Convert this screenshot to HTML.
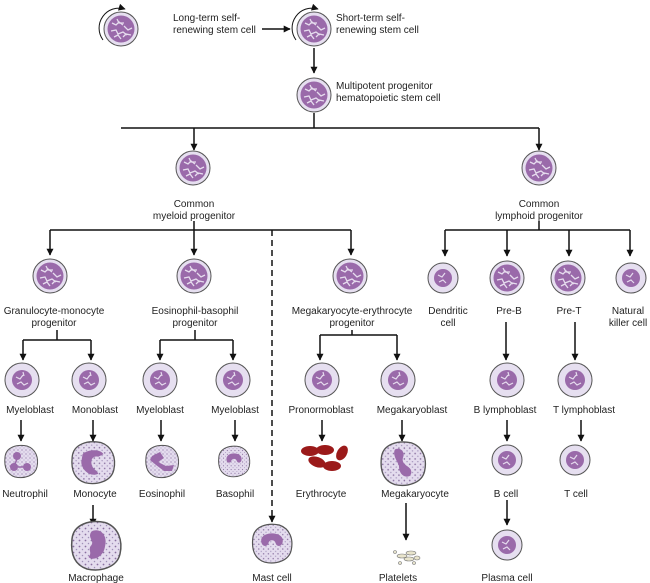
<!DOCTYPE html>
<html><head><meta charset="utf-8"><style>
html,body{margin:0;padding:0;background:#fff}
svg{display:block}
text{font-family:"Liberation Sans",sans-serif;font-size:10px;fill:#222}
</style></head><body>
<svg width="650" height="583" viewBox="0 0 650 583" xmlns="http://www.w3.org/2000/svg">
<defs>
<marker id="ar" viewBox="0 0 10 10" refX="9" refY="5" markerWidth="7" markerHeight="7" orient="auto" markerUnits="userSpaceOnUse"><path d="M0,0 L10,5 L0,10 z" fill="#111"/></marker>
<pattern id="dots" width="4" height="4" patternUnits="userSpaceOnUse"><rect width="4" height="4" fill="#e4dcee"/><circle cx="1" cy="1" r="0.6" fill="#8a70a0"/><circle cx="3" cy="3" r="0.5" fill="#a090b8"/></pattern>
<g id="stem">
<circle r="17" fill="#e6dff0" stroke="#555" stroke-width="1"/>
<circle r="13.5" fill="#9a6aaa"/>
<path d="M-9,-6 l4,2 l3,-3 l4,3 M-10,2 l5,-1 l2,4 l5,-2 l4,3 M-4,-10 l2,4 l5,0 M3,-3 l4,4 l4,-2 M-7,8 l4,-2 l3,4 M2,8 l3,-3 l5,1" stroke="#e6dcee" stroke-width="1.3" fill="none"/>
</g>
<g id="blast">
<circle r="17" fill="#e6dff0" stroke="#555" stroke-width="1"/>
<circle r="10" fill="#9a6aaa"/>
<path d="M-6,-3 l4,2 l3,-4 M-5,4 l4,-2 l3,3 l4,-2 M1,-8 l1,4" stroke="#e6dcee" stroke-width="1.2" fill="none"/>
</g>
<g id="small">
<circle r="15" fill="#e6dff0" stroke="#555" stroke-width="1"/>
<circle r="9" fill="#9a6aaa"/>
<path d="M-5,-3 l4,2 l3,-4 M-4,4 l4,-2 l3,3" stroke="#e6dcee" stroke-width="1.2" fill="none"/>
</g>
<g id="mature">
<path d="M-16,-4 C-15,-14 -4,-17 6,-15 C15,-12 18,-3 16,6 C14,15 3,18 -6,16 C-15,13 -17,5 -16,-4z" fill="url(#dots)" stroke="#555" stroke-width="1"/>
</g>
</defs>

<g stroke="#111" stroke-width="1.5" fill="none">
<line x1="262" y1="29" x2="290" y2="29" marker-end="url(#ar)"/>
<line x1="314" y1="48" x2="314" y2="73" marker-end="url(#ar)"/>
<polyline points="314,113 314,128"/>
<line x1="121" y1="128" x2="539" y2="128"/>
<line x1="194" y1="128" x2="194" y2="150" marker-end="url(#ar)"/>
<line x1="539" y1="128" x2="539" y2="150" marker-end="url(#ar)"/>
<line x1="194" y1="221" x2="194" y2="230"/>
<line x1="50" y1="230" x2="351" y2="230"/>
<line x1="50" y1="230" x2="50" y2="255" marker-end="url(#ar)"/>
<line x1="194" y1="230" x2="194" y2="255" marker-end="url(#ar)"/>
<line x1="351" y1="230" x2="351" y2="255" marker-end="url(#ar)"/>
<line x1="272" y1="230" x2="272" y2="522" stroke-dasharray="6,4" marker-end="url(#ar)"/>
<line x1="539" y1="221" x2="539" y2="230"/>
<line x1="445" y1="230" x2="630" y2="230"/>
<line x1="445" y1="230" x2="445" y2="256" marker-end="url(#ar)"/>
<line x1="507" y1="230" x2="507" y2="256" marker-end="url(#ar)"/>
<line x1="569" y1="230" x2="569" y2="256" marker-end="url(#ar)"/>
<line x1="630" y1="230" x2="630" y2="256" marker-end="url(#ar)"/>
<line x1="57" y1="330" x2="57" y2="340"/><line x1="23" y1="340" x2="91" y2="340"/>
<line x1="23" y1="340" x2="23" y2="360" marker-end="url(#ar)"/><line x1="91" y1="340" x2="91" y2="360" marker-end="url(#ar)"/>
<line x1="195" y1="330" x2="195" y2="340"/><line x1="160" y1="340" x2="233" y2="340"/>
<line x1="160" y1="340" x2="160" y2="360" marker-end="url(#ar)"/><line x1="233" y1="340" x2="233" y2="360" marker-end="url(#ar)"/>
<line x1="352" y1="330" x2="352" y2="335"/><line x1="320" y1="335" x2="397" y2="335"/>
<line x1="320" y1="335" x2="320" y2="360" marker-end="url(#ar)"/><line x1="397" y1="335" x2="397" y2="360" marker-end="url(#ar)"/>
<line x1="506" y1="322" x2="506" y2="360" marker-end="url(#ar)"/>
<line x1="575" y1="322" x2="575" y2="360" marker-end="url(#ar)"/>
<line x1="21" y1="420" x2="21" y2="441" marker-end="url(#ar)"/>
<line x1="93" y1="420" x2="93" y2="441" marker-end="url(#ar)"/>
<line x1="161" y1="420" x2="161" y2="441" marker-end="url(#ar)"/>
<line x1="235" y1="420" x2="235" y2="441" marker-end="url(#ar)"/>
<line x1="322" y1="420" x2="322" y2="441" marker-end="url(#ar)"/>
<line x1="402" y1="420" x2="402" y2="441" marker-end="url(#ar)"/>
<line x1="507" y1="420" x2="507" y2="441" marker-end="url(#ar)"/>
<line x1="581" y1="420" x2="581" y2="441" marker-end="url(#ar)"/>
<line x1="93" y1="505" x2="93" y2="525" marker-end="url(#ar)"/>
<line x1="406" y1="503" x2="406" y2="540" marker-end="url(#ar)"/>
<line x1="507" y1="500" x2="507" y2="525" marker-end="url(#ar)"/>
</g>
<g stroke="#111" stroke-width="1" fill="none">
<path d="M103,40 A20,20 0 0 1 125,9" marker-end="url(#ar)"/>
<path d="M296,40 A20,20 0 0 1 318,9" marker-end="url(#ar)"/>
</g>

<use href="#stem" x="121" y="29"/>
<use href="#stem" x="314" y="29"/>
<use href="#stem" x="314" y="95"/>
<use href="#stem" x="193" y="168"/>
<use href="#stem" x="539" y="168"/>
<use href="#stem" x="50" y="276"/>
<use href="#stem" x="194" y="276"/>
<use href="#stem" x="350" y="276"/>
<use href="#small" x="443" y="278"/>
<use href="#stem" x="507" y="278"/>
<use href="#stem" x="568" y="278"/>
<use href="#small" x="631" y="278"/>
<use href="#blast" x="22" y="380"/>
<use href="#blast" x="89" y="380"/>
<use href="#blast" x="160" y="380"/>
<use href="#blast" x="233" y="380"/>
<use href="#blast" x="322" y="380"/>
<use href="#blast" x="398" y="380"/>
<use href="#blast" x="507" y="380"/>
<use href="#blast" x="575" y="380"/>
<use href="#small" x="507" y="460"/>
<use href="#small" x="575" y="460"/>
<use href="#small" x="507" y="545"/>

<g transform="translate(21,461)"><use href="#mature"/><circle cx="-4" cy="-5" r="4" fill="#9a6aaa"/><circle cx="-7" cy="6" r="4" fill="#9a6aaa"/><circle cx="6" cy="6" r="4" fill="#9a6aaa"/><path d="M-4,-2 L-6,3 M-3,6 L3,6" stroke="#9a6aaa" stroke-width="1.5"/></g>
<g transform="translate(93,462) scale(1.3)"><use href="#mature"/><path d="M-8,-6 C-4,-10 6,-10 8,-6 L4,-4 C0,-5 -2,-2 -1,2 C0,6 3,6 4,9 C-2,12 -9,6 -9,0z" fill="#9a6aaa"/></g>
<g transform="translate(162,461)"><use href="#mature"/><path d="M-10,-5 L-2,-9 L2,-3 L-4,1 L4,5 L12,4 L10,10 L2,10 L-6,4 L-12,-1z" fill="#9a6aaa"/></g>
<g transform="translate(234,461) scale(0.95)"><use href="#mature"/><path d="M-8,-2 C-8,-10 8,-10 8,-2 C8,2 4,3 3,0 C2,-3 -2,-3 -3,0 C-4,3 -8,2 -8,-2z" fill="#9a6aaa"/></g>
<g transform="translate(96,545) scale(1.5)"><use href="#mature"/><path d="M-3,-9 C3,-12 8,-6 6,1 C5,8 -2,11 -5,8 C-2,5 -6,3 -3,0 C-1,-3 -6,-5 -3,-9z" fill="#9a6aaa"/></g>
<g transform="translate(272,543) scale(1.2)"><use href="#mature"/><path d="M-9,-2 C-9,-10 9,-10 9,-2 C9,3 4,4 3,0 C2,-3 -2,-3 -3,0 C-4,4 -9,3 -9,-2z" fill="#9a6aaa"/></g>
<g transform="translate(403,463) scale(1.35)"><use href="#mature"/><path d="M-6,-10 C-2,-12 2,-8 0,-4 C-1,-1 1,1 4,3 C8,6 6,11 2,10 C-2,9 -3,5 -3,2 C-4,-1 -8,-6 -6,-10z" fill="#9a6aaa"/></g>
<g fill="#9b1a1a">
<ellipse cx="310" cy="451" rx="9" ry="5"/><ellipse cx="325" cy="450" rx="9" ry="5"/>
<ellipse cx="342" cy="453" rx="5" ry="8" transform="rotate(30 342 453)"/>
<ellipse cx="317" cy="462" rx="9" ry="5" transform="rotate(20 317 462)"/><ellipse cx="332" cy="466" rx="9" ry="5"/>
</g>
<g fill="#e8e4cc" stroke="#777" stroke-width="0.6">
<ellipse cx="402" cy="556" rx="5" ry="2"/><ellipse cx="411" cy="553" rx="5" ry="2"/><ellipse cx="409" cy="559" rx="5" ry="2"/><ellipse cx="417" cy="558" rx="3" ry="2"/><circle cx="395" cy="552" r="1.5"/><circle cx="400" cy="563" r="1.5"/><circle cx="414" cy="563" r="1.5"/>
</g>

<text x="173" y="21">Long-term self-</text>
<text x="173" y="33">renewing stem cell</text>
<text x="336" y="21">Short-term self-</text>
<text x="336" y="33">renewing stem cell</text>
<text x="336" y="89">Multipotent progenitor</text>
<text x="336" y="101">hematopoietic stem cell</text>
<g text-anchor="middle">
<text x="194" y="207">Common</text><text x="194" y="219">myeloid progenitor</text>
<text x="539" y="207">Common</text><text x="539" y="219">lymphoid progenitor</text>
<text x="54" y="314">Granulocyte-monocyte</text><text x="54" y="326">progenitor</text>
<text x="195" y="314">Eosinophil-basophil</text><text x="195" y="326">progenitor</text>
<text x="352" y="314">Megakaryocyte-erythrocyte</text><text x="352" y="326">progenitor</text>
<text x="448" y="314">Dendritic</text><text x="448" y="326">cell</text>
<text x="509" y="314">Pre-B</text>
<text x="569" y="314">Pre-T</text>
<text x="628" y="314">Natural</text><text x="628" y="326">killer cell</text>
<text x="30" y="413">Myeloblast</text>
<text x="95" y="413">Monoblast</text>
<text x="160" y="413">Myeloblast</text>
<text x="235" y="413">Myeloblast</text>
<text x="321" y="413">Pronormoblast</text>
<text x="412" y="413">Megakaryoblast</text>
<text x="505" y="413">B lymphoblast</text>
<text x="584" y="413">T lymphoblast</text>
<text x="25" y="497">Neutrophil</text>
<text x="95" y="497">Monocyte</text>
<text x="162" y="497">Eosinophil</text>
<text x="235" y="497">Basophil</text>
<text x="321" y="497">Erythrocyte</text>
<text x="415" y="497">Megakaryocyte</text>
<text x="506" y="497">B cell</text>
<text x="576" y="497">T cell</text>
<text x="96" y="581">Macrophage</text>
<text x="272" y="581">Mast cell</text>
<text x="398" y="581">Platelets</text>
<text x="507" y="581">Plasma cell</text>
</g>
</svg>
</body></html>
